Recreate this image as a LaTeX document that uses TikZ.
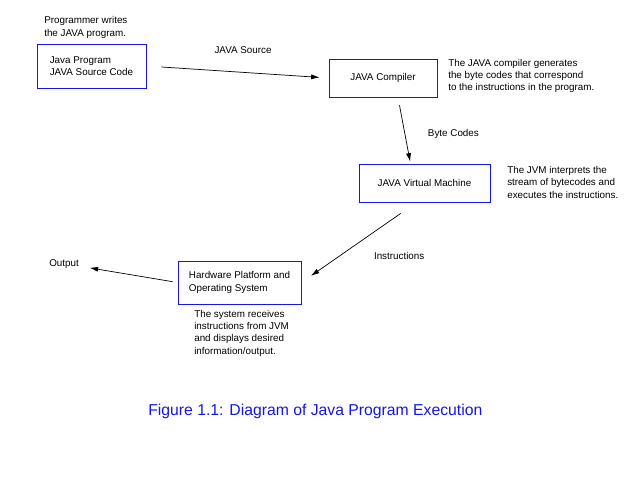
\documentclass[tikz,border=0pt]{standalone}
\usepackage{fontspec}
\setmainfont{Liberation Sans}
\usetikzlibrary{arrows.meta,positioning}
\newcommand{\notefont}{\fontsize{7}{8.6}\selectfont}
\definecolor{boxblue}{RGB}{20,20,235}

\begin{document}
\begin{tikzpicture}[x=0.025cm,y=-0.025cm]
    \tikzset{vertex/.style = {shape=rectangle,draw=boxblue,line width=0.6pt,align=left,font=\notefont,inner sep=0pt}}
    \tikzset{edge/.style = {-{Latex[length=6pt,width=3.6pt]},line width=0.5pt}}
    \tikzset{note/.style = {anchor=base west,align=left,font=\notefont,inner sep=0pt}}
    \useasboundingbox (0,0) rectangle (640,480);
    % vertices
    \node[vertex,minimum width=2.725cm,minimum height=1.1cm] (1) at (91.5,66) {Java Program\\JAVA Source Code};
    \node[vertex,minimum width=2.7cm,minimum height=0.95cm] (2) at (383,78) {JAVA Compiler};
    \node[vertex,minimum width=3.275cm,minimum height=0.95cm] (3) at (424.5,183) {JAVA Virtual Machine};
    \node[vertex,minimum width=3.075cm,minimum height=1.075cm] (4) at (239.5,282.5) {Hardware Platform and\\Operating System};
    \node[note] (5) at (49,266) {Output};
    % notes (base = last line)
    \node[note] (n1) at (44,36) {Programmer writes\\the JAVA program.};
    \node[note] (n2) at (448,91) {The JAVA compiler generates\\the byte codes that correspond\\to the instructions in the program.};
    \node[note] (n3) at (507,198) {The JVM interprets the\\stream of bytecodes and\\executes the instructions.};
    \node[note] (n4) at (194,354) {The system receives\\instructions from JVM\\and displays desired\\information/output.};
    % edges
    \draw[edge,shorten <=0.375cm,shorten >=0.225cm] (1.east) -- (2.west) node[note,pos=0.35,xshift=0.1cm,yshift=0.42cm] {JAVA Source};
    \draw[edge,shorten <=0.2cm,shorten >=0.05cm] ([xshift=0.375cm]2.south) -- ([xshift=-0.35cm]3.north) node[note,pos=0.45,xshift=0.6cm,yshift=-0.225cm] {Byte Codes};
    \draw[edge,shorten <=0.48cm,shorten >=0.29cm] ([xshift=-0.2cm]3.south) -- (4.east) node[note,pos=0.72,xshift=1.0cm,yshift=0.02cm] {Instructions};
    \draw[edge,shorten <=0.125cm,shorten >=0.65cm] (4.west) -- (5.center);
    % caption
    \node[anchor=base west,inner sep=0pt,text=boxblue,font=\fontsize{11.2}{13}\selectfont] (cap) at (148,415) {Figure 1.1: Diagram of Java Program Execution};
\end{tikzpicture}
\end{document}
